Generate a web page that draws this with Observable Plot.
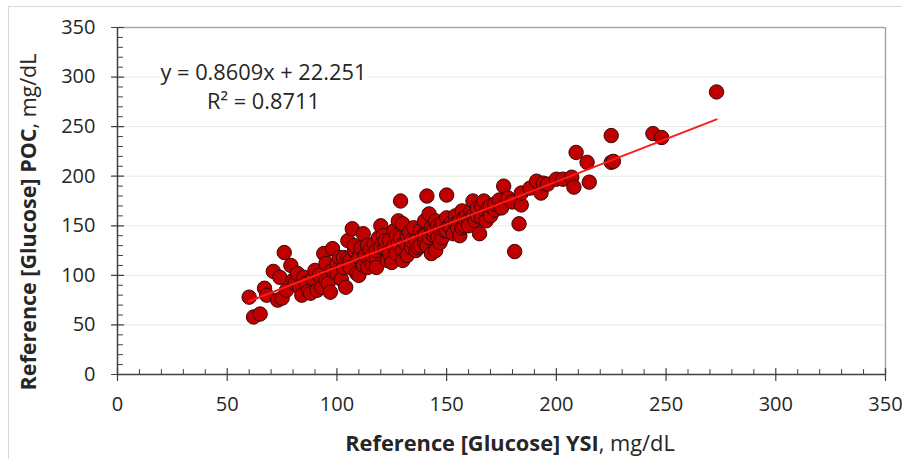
<!DOCTYPE html>
<html><head><meta charset="utf-8">
<script src="https://cdn.jsdelivr.net/npm/d3@7"></script>
<script src="https://cdn.jsdelivr.net/npm/@observablehq/plot@0.6"></script>
<style>
body{margin:0;background:#fff;}
#wrap{position:relative;width:902px;height:459px;overflow:hidden;background:#fff;}
#frame{position:absolute;left:8px;top:6px;width:1000px;height:1000px;border-left:1px solid #d9d9d9;border-top:1px solid #d9d9d9;pointer-events:none;}
#chart{position:absolute;left:0;top:0;}
</style></head><body><div id="wrap"><div id="chart"></div><div id="frame"></div></div>
<script>
// Reference [Glucose] YSI (x) and POC (y), mg/dL
const ysi = [60,62,65,67,68,71,73,74,75,76,77,79,80,81,82,83,84,85,86,87,88,89,90,91,92,93,94,95,95,96,97,98,98,100,100,101,102,103,103,104,105,105,106,106,107,108,108,109,110,110,111,112,112,113,114,114,115,116,116,117,118,118,118,119,120,120,121,122,122,123,124,124,125,126,126,127,127,128,128,129,129,130,130,130,131,132,132,133,134,134,135,136,136,137,138,138,139,140,140,140,141,141,142,142,143,143,144,144,145,145,146,146,147,147,148,148,149,150,150,150,151,152,152,153,154,154,155,156,156,157,157,158,158,159,160,160,161,162,162,163,164,164,165,166,166,167,168,168,169,170,170,172,172,174,175,176,178,180,181,183,184,184,188,191,193,194,196,200,203,207,208,209,214,215,225,225,226,244,248,273];
const poc = [78,58,61,87,80,104,75,98,77,123,85,110,95,92,102,88,80,98,92,84,82,97,105,85,100,88,122,112,95,92,83,127,105,112,102,118,96,108,118,88,135,117,115,108,147,125,130,102,100,118,128,142,110,120,108,130,125,112,120,132,118,125,108,138,150,128,140,128,135,115,135,122,113,145,130,122,140,155,132,175,138,152,125,115,133,120,140,143,128,135,148,135,125,128,145,130,140,132,155,140,180,130,162,138,148,122,140,145,155,125,138,150,133,147,153,138,145,181,158,145,150,153,148,142,160,152,148,155,140,165,148,150,158,160,156,150,165,175,160,155,160,168,142,170,158,175,164,155,168,160,170,166,172,176,168,190,178,174,124,152,171,183,188,195,183,193,192,197,197,199,189,224,214,194,241,214,215,243,239,285];
const slope = 0.8609, intercept = 22.251;
const equationText = ["y = 0.8609x + 22.251", "R\u00b2 = 0.8711"];
const majorTicks = [0,50,100,150,200,250,300,350];
const gridTicks = [50,100,150,200,250,300];
const minorTicks = [10,20,30,40,60,70,80,90,110,120,130,140,160,170,180,190,210,220,230,240,260,270,280,290,310,320,330,340];

const points = ysi.map((x, i) => ({x, y: poc[i]}));
const xExt = d3.extent(ysi);
const trend = xExt.map(x => ({x, y: slope * x + intercept}));

const font = "'Open Sans', Lato, sans-serif";
const axisCol = "#404040";
const tickShape = {draw(ctx, l) { ctx.moveTo(0, 0); ctx.lineTo(0, -l); }};

const chart = Plot.plot({
  width: 902, height: 459,
  marginLeft: 117, marginRight: 17, marginTop: 27, marginBottom: 85,
  style: {fontFamily: font, background: "transparent", overflow: "visible"},
  x: {domain: [0, 350], label: null},
  y: {domain: [0, 350], label: null},
  marks: [
    Plot.ruleY(gridTicks, {stroke: "#e4eedc", strokeWidth: 1}),
    Plot.ruleY([350], {stroke: "#a6a6a6", strokeWidth: 1.5}),
    Plot.ruleX([350], {stroke: "#a6a6a6", strokeWidth: 1.5}),
    Plot.text(equationText, {x: 66.5, y: (d, i) => [304.5, 274.5][i], text: d => d, fontSize: 21.8, fill: "#262626", stroke: "white", strokeWidth: 10, paintOrder: "stroke"}),
    Plot.axisY({ticks: majorTicks, tickSize: 0, tickPadding: 22, fontSize: 20, label: null, color: "#262626"}),
    Plot.axisX({ticks: majorTicks, tickSize: 0, tickPadding: 22, fontSize: 20, label: null, color: "#262626"}),
    Plot.vector(minorTicks, {x: 0, y: d => d, length: 5, rotate: 90, anchor: "start", shape: tickShape, stroke: axisCol, strokeWidth: 1}),
    Plot.vector(majorTicks, {x: 0, y: d => d, length: 12, rotate: 90, anchor: "middle", shape: tickShape, stroke: axisCol, strokeWidth: 1.2}),
    Plot.vector(minorTicks, {x: d => d, y: 0, length: 5, rotate: 0, anchor: "start", shape: tickShape, stroke: axisCol, strokeWidth: 1}),
    Plot.vector(majorTicks, {x: d => d, y: 0, length: 12, rotate: 0, anchor: "middle", shape: tickShape, stroke: axisCol, strokeWidth: 1.2}),
    Plot.ruleX([0], {stroke: axisCol, strokeWidth: 1.5}),
    Plot.ruleY([0], {stroke: axisCol, strokeWidth: 1.5}),
    Plot.dot(points, {x: "x", y: "y", r: 7.2, fill: "#c00000", stroke: "#3a0606", strokeWidth: 1}),
    Plot.line(trend, {x: "x", y: "y", stroke: "#ff1a1a", strokeWidth: 2})
  ]
});
document.getElementById("chart").appendChild(chart);

const svg = d3.select(chart);
const xt = svg.append("text")
  .attr("x", 510).attr("y", 451)
  .attr("text-anchor", "middle")
  .attr("font-family", font).attr("font-size", 21.8).attr("fill", "#262626");
xt.append("tspan").attr("font-weight", "bold").text("Reference [Glucose] YSI");
xt.append("tspan").text(", mg/dL");

const yt = svg.append("text")
  .attr("transform", "translate(36,222) rotate(-90)")
  .attr("text-anchor", "middle")
  .attr("font-family", font).attr("font-size", 21.5).attr("fill", "#262626");
yt.append("tspan").attr("font-weight", "bold").text("Reference [Glucose] POC");
yt.append("tspan").text(", mg/dL");
</script>
</body></html>
